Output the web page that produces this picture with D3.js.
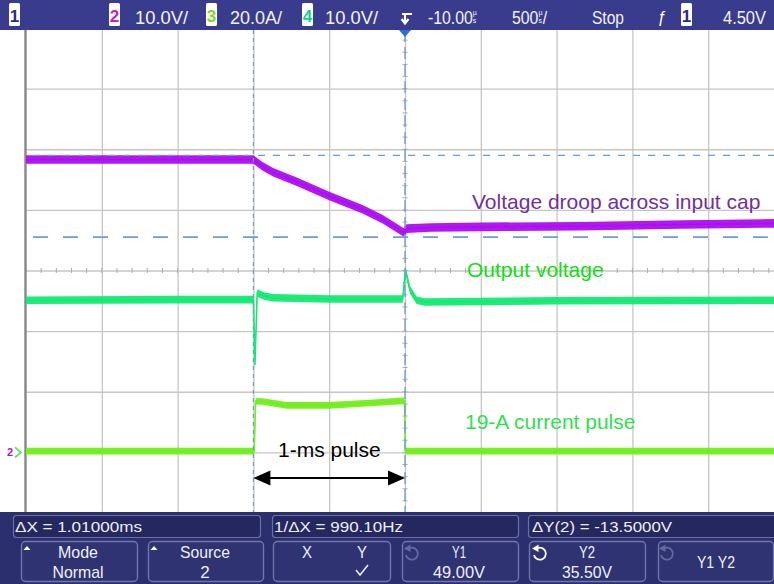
<!DOCTYPE html>
<html><head><meta charset="utf-8">
<script src="https://cdn.jsdelivr.net/npm/d3@7"></script>
<style>body{margin:0;background:#fff;overflow:hidden}svg{display:block}</style>
</head><body>
<svg id="c" width="774" height="584"></svg>
<script>
// ---------- data ----------
// channel 2: input-cap voltage (V), time in ms relative to screen centre
const ch2Time  = [-2.5, -1.0, -0.94, -0.87, -0.71, -0.50, -0.28, -0.15, -0.01, 0.01, 0.17, 0.50, 1.15, 1.83, 2.5];
const ch2Volts = [48.3, 48.3, 47.2, 46.2, 44.6, 42.3, 40.1, 38.5, 36.3, 36.9, 37.1, 37.2, 37.3, 37.6, 37.8];
// channel 4: output voltage (V)
const ch4Time  = [-2.5, -1.5, -1.0, -0.99, -0.975, -0.93, -0.87, -0.5, -0.015, 0.003, 0.033, 0.077, 0.13, 1.0, 2.5];
const ch4Volts = [12.1, 12.2, 12.2, 1.4, 13.3, 12.8, 12.5, 12.3, 12.3, 17.1, 13.8, 12.1, 11.8, 12.0, 12.1];
// channel 3: load current (A)
const ch3Time = [-2.5, -0.995, -0.985, -0.94, -0.78, -0.50, -0.23, -0.015, -0.003, 0.003, 2.5];
const ch3Amps = [0.4, 0.4, 16.9, 16.8, 15.5, 15.5, 16.3, 17.0, 17.0, 0.4, 0.4];
// cursors
const cursorX = [-1.0, 0.0];        // ms
const cursorY = [49.00, 35.50];     // V on channel 2
// header / footer texts
const chScales = ["10.0V/", "20.0A/", "10.0V/"];
const delayText = "-10.00", timebaseText = "500", runText = "Stop", trigLevel = "4.50V";
const readouts = ["\u0394X = 1.01000ms", "1/\u0394X = 990.10Hz", "\u0394Y(2) = -13.5000V"];
const softkeys = [["Mode", "Normal"], ["Source", "2"], ["X", "Y"], ["Y1", "49.00V"], ["Y2", "35.50V"], ["Y1 Y2", ""]];
const annotations = ["Voltage droop across input cap", "Output voltage", "19-A current pulse", "1-ms pulse"];

// ---------- scales ----------
const xs  = d3.scaleLinear().domain([-2.5, 2.5]).range([26, 784]);
const yDiv = d3.scaleLinear().domain([-4, 4]).range([513, 28]);
const yV2 = d3.scaleLinear().domain([-10, 70]).range([513, 28]);
const yA3 = d3.scaleLinear().domain([-20, 140]).range([513, 28]);
const yV4 = d3.scaleLinear().domain([-23, 57]).range([513, 28]);

const svg = d3.select("#c");
const FONT = "'Liberation Sans', Arial, sans-serif";
svg.append("rect").attr("width", 774).attr("height", 584).attr("fill", "#fff");

// ---------- grid ----------
const gridT = d3.range(0, 11).map(k => -2.5 + k * 0.5);
const gridD = d3.range(-4, 5);
const gx = svg.append("g").attr("transform", "translate(0,28)")
  .call(d3.axisTop(xs).tickValues(gridT.slice(1)).tickSize(-485).tickFormat(""));
const gy = svg.append("g").attr("transform", "translate(26,0)")
  .call(d3.axisLeft(yDiv).tickValues(gridD).tickSize(-760).tickFormat(""));
[gx, gy].forEach(g => { g.select(".domain").remove(); g.selectAll("line").attr("stroke", "#c6c6c6").attr("stroke-width", 1.3); });
// minor ticks on centre lines
const minT = d3.range(-25, 26).map(k => k * 0.1);
svg.append("g").selectAll("line").data(minT).join("line")
  .attr("x1", d => xs(d)).attr("x2", d => xs(d)).attr("y1", yDiv(0) - 2.5).attr("y2", yDiv(0) + 2.5)
  .attr("stroke", "#acacac").attr("stroke-width", 1);
const minD = d3.range(-20, 21).map(k => k * 0.2);
svg.append("g").selectAll("line").data(minD).join("line")
  .attr("y1", d => yDiv(d)).attr("y2", d => yDiv(d)).attr("x1", xs(0) - 2.5).attr("x2", xs(0) + 2.5)
  .attr("stroke", "#acacac").attr("stroke-width", 1);
// left border
svg.append("line").attr("x1", 25.5).attr("x2", 25.5).attr("y1", 28).attr("y2", 513)
  .attr("stroke", "#878787").attr("stroke-width", 2.4);

// ---------- traces ----------
function band(times, vals, ys, h) {
  return d3.area().x((d, i) => xs(times[i])).y0((d, i) => ys(vals[i]) + h).y1((d, i) => ys(vals[i]) - h)(vals);
}
function core(times, vals, ys) {
  return d3.line().x((d, i) => xs(times[i])).y((d, i) => ys(vals[i]))(vals);
}
const traces = [
  { t: ch3Time, v: ch3Amps, s: yA3, h: 3.3, c: "#72ee1a" },
  { t: ch4Time, v: ch4Volts, s: yV4, h: 3.8, c: "#12ea72" },
  { t: ch2Time, v: ch2Volts, s: yV2, h: 4.3, c: "#ad0df0" }
];
traces.forEach(tr => {
  svg.append("path").attr("d", band(tr.t, tr.v, tr.s, tr.h)).attr("fill", tr.c).attr("opacity", 0.95);
  svg.append("path").attr("d", core(tr.t, tr.v, tr.s)).attr("fill", "none").attr("stroke", tr.c).attr("stroke-width", 1.6);
});

// ---------- cursors ----------
const curCol = "#6f9bd0";
svg.append("line").attr("x1", xs(cursorX[0])).attr("x2", xs(cursorX[0])).attr("y1", 30).attr("y2", 513)
  .attr("stroke", curCol).attr("stroke-width", 1.2).attr("stroke-dasharray", "4,4");
svg.append("line").attr("x1", xs(cursorX[1])).attr("x2", xs(cursorX[1])).attr("y1", 30).attr("y2", 513)
  .attr("stroke", curCol).attr("stroke-width", 1.3).attr("stroke-dasharray", "12,5");
svg.append("line").attr("x1", 33).attr("x2", 774).attr("y1", yV2(cursorY[0])).attr("y2", yV2(cursorY[0]))
  .attr("stroke", curCol).attr("stroke-width", 1.3).attr("stroke-dasharray", "7,8");
svg.append("line").attr("x1", 33).attr("x2", 774).attr("y1", yV2(cursorY[1])).attr("y2", yV2(cursorY[1]))
  .attr("stroke", curCol).attr("stroke-width", 1.6).attr("stroke-dasharray", "15,15");

// ground marker channel 2
svg.append("text").attr("x", 7).attr("y", yV2(0) + 4).attr("font-family", FONT).attr("font-size", 11)
  .attr("font-weight", "bold").attr("fill", "#a020d0").text("2");
svg.append("path").attr("d", `M15,${yV2(0) - 5} L21,${yV2(0)} L15,${yV2(0) + 5}`).attr("fill", "none")
  .attr("stroke", "#60e060").attr("stroke-width", 1.8);

// ---------- annotations ----------
svg.append("text").attr("x", 472).attr("y", 209).attr("font-family", FONT).attr("font-size", 21)
  .attr("fill", "#7030a0").text(annotations[0]);
svg.append("text").attr("x", 467).attr("y", 277).attr("font-family", FONT).attr("font-size", 21)
  .attr("fill", "#10e010").text(annotations[1]);
svg.append("text").attr("x", 465).attr("y", 429).attr("font-family", FONT).attr("font-size", 21)
  .attr("fill", "#30e050").text(annotations[2]);
svg.append("text").attr("x", 278).attr("y", 457).attr("font-family", FONT).attr("font-size", 21)
  .attr("fill", "#000").text(annotations[3]);
// double arrow
const ay = 478, ax1 = xs(cursorX[0]), ax2 = xs(cursorX[1]);
svg.append("line").attr("x1", ax1 + 12).attr("x2", ax2 - 12).attr("y1", ay).attr("y2", ay).attr("stroke", "#000").attr("stroke-width", 2);
svg.append("path").attr("d", `M${ax1},${ay} L${ax1 + 17},${ay - 7.5} L${ax1 + 17},${ay + 7.5} Z`).attr("fill", "#000");
svg.append("path").attr("d", `M${ax2},${ay} L${ax2 - 17},${ay - 7.5} L${ax2 - 17},${ay + 7.5} Z`).attr("fill", "#000");

// ---------- top bar ----------
svg.append("rect").attr("x", 0).attr("y", 0).attr("width", 774).attr("height", 30).attr("fill", "#393c8c");
function chBox(x, label, col) {
  svg.append("rect").attr("x", x).attr("y", 3).attr("width", 11).attr("height", 23).attr("rx", 1.5).attr("fill", "#fff");
  svg.append("text").attr("x", x + 5.5).attr("y", 22).attr("text-anchor", "middle").attr("font-family", FONT)
    .attr("font-size", 17).attr("font-weight", "bold").attr("fill", col).text(label);
}
function barText(x, w, s) {
  svg.append("text").attr("x", x).attr("y", 24).attr("font-family", FONT).attr("font-size", 18)
    .attr("fill", "#f2f2f8").attr("textLength", w).attr("lengthAdjust", "spacingAndGlyphs").text(s);
}
// number followed by stacked "µ/s" unit, drawn as one condensed text element
function unitText(x, num, tail, sx) {
  const g = svg.append("g").attr("transform", `translate(${x},0) scale(${sx},1)`);
  const t = g.append("text").attr("x", 0).attr("y", 24).attr("font-family", FONT).attr("font-size", 18).attr("fill", "#f2f2f8");
  t.append("tspan").text(num);
  t.append("tspan").attr("font-size", 8).attr("dy", -9).text("\u00b5");
  t.append("tspan").attr("font-size", 8).attr("dx", -4.6).attr("dy", 8).text("s");
  if (tail) t.append("tspan").attr("dy", 1).attr("dx", 1).text(tail);
}
chBox(9, "1", "#2a2d80");
chBox(109, "2", "#c020d0");
barText(135, 53, chScales[0]);
chBox(206, "3", "#80d820");
barText(230, 52, chScales[1]);
chBox(302, "4", "#18d090");
barText(325, 53, chScales[2]);
// trigger position icon
svg.append("path").attr("d", "M402,14 L412,14 M405,14 L405,22 M401.5,19 L405,23.5 L408.5,19")
  .attr("fill", "none").attr("stroke", "#fff").attr("stroke-width", 2.2);
unitText(428, delayText, null, 0.88);
unitText(512, timebaseText, "/", 0.88);
barText(592, 32, runText);
svg.append("text").attr("x", 657).attr("y", 23).attr("font-family", FONT).attr("font-size", 16)
  .attr("font-style", "italic").attr("fill", "#fff").text("\u0192");
chBox(681, "1", "#2a2d80");
barText(723, 43, trigLevel);
// trigger marker
svg.append("path").attr("d", `M${xs(0) - 6},30 L${xs(0) + 6},30 L${xs(0)},37 Z`).attr("fill", "#2c6fd6");

// ---------- bottom bar ----------
svg.append("rect").attr("x", 0).attr("y", 512).attr("width", 774).attr("height", 72).attr("fill", "#2b2f6d");
const rbox = [[13, 260], [272, 518], [528, 780]];
rbox.forEach(b => {
  svg.append("rect").attr("x", b[0] + 0.5).attr("y", 515.5).attr("width", b[1] - b[0]).attr("height", 22)
    .attr("rx", 3).attr("fill", "#24285f").attr("stroke", "#6a6fa6").attr("stroke-width", 1.2);
});
const rtext = [[15, 127], [274, 129], [532, 140]];
readouts.forEach((s, i) => {
  svg.append("text").attr("x", rtext[i][0]).attr("y", 532).attr("font-family", FONT).attr("font-size", 15)
    .attr("fill", "#eceef6").attr("textLength", rtext[i][1]).attr("lengthAdjust", "spacingAndGlyphs").text(s);
});
const kbox = [[21, 137], [148, 263], [273, 390], [402, 518], [529, 645], [658, 773]];
kbox.forEach(b => {
  svg.append("rect").attr("x", b[0] + 0.5).attr("y", 541.5).attr("width", b[1] - b[0]).attr("height", 40)
    .attr("rx", 4).attr("fill", "#2f3372").attr("stroke", "#7075ab").attr("stroke-width", 1.4);
});
function kt(x, y, s, w) {
  const t = svg.append("text").attr("x", x).attr("y", y).attr("text-anchor", "middle").attr("font-family", FONT)
    .attr("font-size", 17).attr("fill", "#eef0f8").text(s);
  if (w) t.attr("textLength", w).attr("lengthAdjust", "spacingAndGlyphs");
}
// small up triangles
[[27, 548], [154, 548]].forEach(p => {
  svg.append("path").attr("d", `M${p[0] - 3.5},${p[1] + 2} L${p[0] + 3.5},${p[1] + 2} L${p[0]},${p[1] - 2} Z`).attr("fill", "#fff");
});
kt(78, 558, softkeys[0][0], 40); kt(78, 578, softkeys[0][1], 51);
kt(205, 558, softkeys[1][0], 50); kt(205, 578, softkeys[1][1]);
kt(307, 558, softkeys[2][0], 10); kt(362, 558, softkeys[2][1], 10);
svg.append("path").attr("d", "M356,570 L360,575 L368,565").attr("fill", "none").attr("stroke", "#eef0f8").attr("stroke-width", 1.5);
kt(459, 558, softkeys[3][0], 14); kt(459, 578, softkeys[3][1], 52);
kt(587, 558, softkeys[4][0], 16); kt(587, 578, softkeys[4][1], 50);
kt(716, 568, softkeys[5][0], 38);
// rotate icons (circular arrow)
function rot(cx, cy, col) {
  svg.append("path").attr("d", `M${cx - 2},${cy - 6} A6,6 0 1 1 ${cx - 6},${cy + 1}`).attr("fill", "none")
    .attr("stroke", col).attr("stroke-width", 1.8);
  svg.append("path").attr("d", `M${cx - 8},${cy - 5.5} L${cx - 1.5},${cy - 9.5} L${cx - 1.5},${cy - 2} Z`).attr("fill", col);
}
rot(412, 554, "#656a9e");
rot(540, 554, "#ffffff");
rot(667, 554, "#656a9e");
</script>
</body></html>
